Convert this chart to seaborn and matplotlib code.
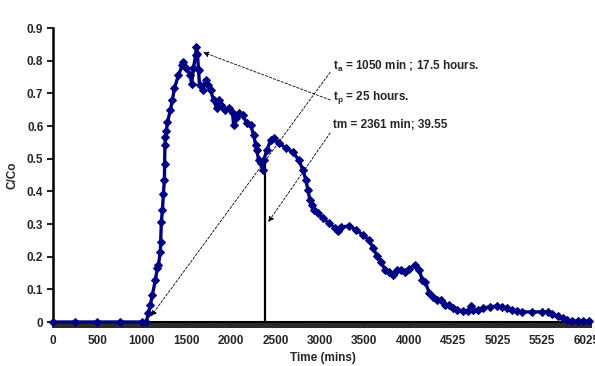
import numpy as np
import pandas as pd
import matplotlib
matplotlib.use("Agg")
import matplotlib.pyplot as plt
import seaborn as sns

# Breakthrough curve (time on the evenly spaced axis, C/Co)
time_min = [0, 250, 500, 750, 1000, 1050, 1072, 1094, 1117, 1151, 1173, 1184, 1207, 1210,
            1218, 1230, 1241, 1252, 1255, 1258, 1263, 1275, 1286, 1320, 1342, 1365, 1410,
            1455, 1466, 1500, 1545, 1557, 1579, 1602, 1613, 1624, 1636, 1647, 1681, 1715,
            1737, 1771, 1805, 1839, 1861, 1884, 1929, 1974, 2019, 2030, 2053, 2087, 2132,
            2177, 2222, 2256, 2279, 2290, 2312, 2335, 2357, 2369, 2403, 2448, 2482, 2538,
            2617, 2696, 2764, 2809, 2843, 2865, 2888, 2910, 2933, 2978, 3034, 3102, 3170,
            3204, 3237, 3328, 3407, 3486, 3553, 3598, 3643, 3689, 3734, 3779, 3824, 3869,
            3914, 3959, 4004, 4072, 4117, 4151, 4185, 4230, 4275, 4320, 4365, 4410, 4456,
            4501, 4546, 4613, 4670, 4704, 4726, 4783, 4839, 4907, 4986, 5042, 5099, 5155,
            5211, 5268, 5381, 5494, 5561, 5606, 5674, 5730, 5775, 5832, 5900, 5960, 6030]
c_co = [0, 0, 0, 0, 0, 0, 0.028, 0.052, 0.083, 0.129, 0.165, 0.174, 0.214, 0.245,
        0.306, 0.343, 0.392, 0.435, 0.484, 0.542, 0.566, 0.585, 0.612, 0.649, 0.680, 0.716, 0.756,
        0.787, 0.796, 0.777, 0.756, 0.728, 0.777, 0.817, 0.842, 0.820, 0.771, 0.725, 0.710, 0.741,
        0.725, 0.710, 0.680, 0.655, 0.680, 0.664, 0.649, 0.655, 0.640, 0.603, 0.624, 0.640, 0.634,
        0.609, 0.603, 0.572, 0.542, 0.526, 0.496, 0.487, 0.465, 0.496, 0.526, 0.557, 0.563, 0.548,
        0.533, 0.520, 0.496, 0.465, 0.435, 0.404, 0.373, 0.358, 0.343, 0.334, 0.318, 0.303, 0.288,
        0.279, 0.291, 0.294, 0.282, 0.266, 0.251, 0.227, 0.202, 0.184, 0.159, 0.153, 0.144, 0.159,
        0.159, 0.153, 0.162, 0.174, 0.159, 0.129, 0.122, 0.089, 0.077, 0.067, 0.067, 0.052, 0.052,
        0.043, 0.037, 0.034, 0.034, 0.049, 0.037, 0.037, 0.043, 0.046, 0.049, 0.046, 0.043, 0.037,
        0.034, 0.031, 0.031, 0.031, 0.031, 0.024, 0.018, 0.012, 0.006, 0.003, 0.003, 0.003, 0.003]

tick_pos = [0, 500, 1000, 1500, 2000, 2500, 3000, 3500, 4000, 4500, 5000, 5500, 6000]
tick_labels = ["0", "500", "1000", "1500", "2000", "2500", "3000", "3500", "4000",
               "4525", "5025", "5525", "6025"]

tm_x = 2380
tm_height = 0.495

sns.set_theme(style="white")
plt.rcParams["font.family"] = ["Liberation Sans", "DejaVu Sans"]
plt.rcParams["font.weight"] = "bold"
plt.rcParams["mathtext.fontset"] = "custom"
plt.rcParams["mathtext.rm"] = "Liberation Sans:bold"
plt.rcParams["mathtext.it"] = "Liberation Sans:bold"
plt.rcParams["mathtext.bf"] = "Liberation Sans:bold"

df = pd.DataFrame({"time": time_min, "c": c_co})

fig = plt.figure(figsize=(5.95, 3.66), dpi=100)
ax = fig.add_axes([0.0891, 0.1202, 0.906, 0.803])

sns.lineplot(data=df, x="time", y="c", ax=ax, color="#000080", lw=2.4,
             marker="D", markersize=4, markeredgecolor="#000080")
for ln in ax.lines:
    ln.set_clip_on(False)
    ln.set_zorder(5)

# tm line
ax.plot([tm_x, tm_x], [0, tm_height], color="black", lw=1.6, zorder=4)

ax.set_xlim(0, 6060)
ax.set_ylim(0, 0.9)
ax.set_xticks(tick_pos)
ax.set_xticklabels(tick_labels)
ax.set_xticks(np.arange(0, 6060, 22), minor=True)
ax.set_yticks(np.arange(0, 0.91, 0.1))
ax.set_yticklabels(["0"] + [f"{v:.1f}" for v in np.arange(0.1, 0.91, 0.1)])

for s in ["top", "right"]:
    ax.spines[s].set_visible(False)
ax.spines["left"].set_linewidth(1.8)
ax.spines["bottom"].set_linewidth(1.5)
ax.spines["left"].set_color("black")
ax.spines["bottom"].set_color("black")

ax.tick_params(axis="y", which="major", direction="out", length=4, width=1.5,
               labelsize=8.5, left=True, pad=3)
ax.tick_params(axis="x", which="major", direction="out", length=4, width=1.4,
               labelsize=8.5, bottom=True, pad=5)
ax.tick_params(axis="x", which="minor", direction="out", length=4, width=1.4, bottom=True)
for lab in ax.get_xticklabels() + ax.get_yticklabels():
    lab.set_fontweight("bold")

ax.set_xlabel("Time (mins)", fontsize=8.5, fontweight="bold", labelpad=4)
ax.set_ylabel("C/Co", fontsize=8.5, fontweight="bold", labelpad=6)

arrow = dict(arrowstyle="-|>", color="black", lw=0.6, linestyle=(0, (3, 2)),
             mutation_scale=8, shrinkA=0, shrinkB=0)
ax.annotate("", xy=(1102, 0.018), xytext=(3116, 0.765), arrowprops=arrow)
ax.annotate("", xy=(1688, 0.826), xytext=(3116, 0.68), arrowprops=arrow)
ax.annotate("", xy=(2419, 0.306), xytext=(3116, 0.579), arrowprops=arrow)

ax.text(3150, 0.782, r"t$_a$ = 1050 min ; 17.5 hours.", fontsize=8.5, fontweight="bold",
        va="center", ha="left")
ax.text(3150, 0.689, r"t$_p$ = 25 hours.", fontsize=8.5, fontweight="bold",
        va="center", ha="left")
ax.text(3150, 0.603, "tm = 2361 min; 39.55", fontsize=8.5, fontweight="bold",
        va="center", ha="left")

fig.savefig("out.png", dpi=100)
